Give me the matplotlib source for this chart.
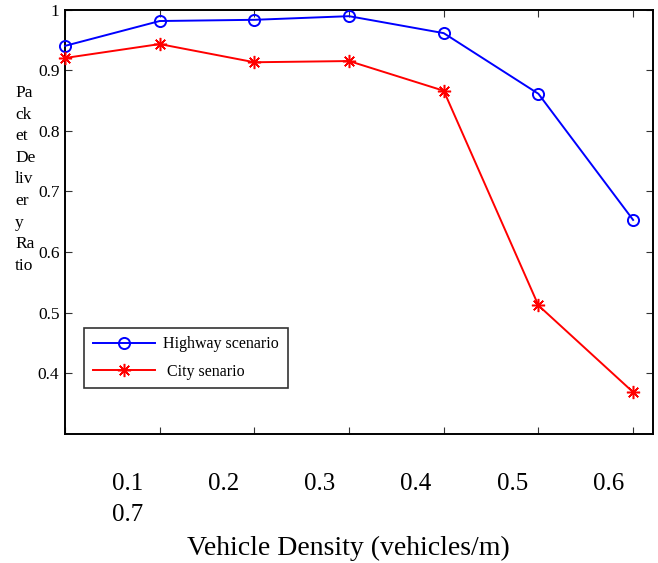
import matplotlib
matplotlib.use("Agg")
import matplotlib.pyplot as plt

density = [0.1, 0.2, 0.3, 0.4, 0.5, 0.6, 0.7]
highway = [0.940, 0.981, 0.983, 0.989, 0.961, 0.861, 0.653]
city = [0.920, 0.943, 0.913, 0.915, 0.866, 0.512, 0.369]
density_labels = ["0.1", "0.2", "0.3", "0.4", "0.5", "0.6", "0.7"]
ylabel_parts = ["Pa", "ck", "et", "De", "liv", "er", "y", "Ra", "tio"]
yticks = [0.4, 0.5, 0.6, 0.7, 0.8, 0.9, 1.0]
ytick_labels = ["0.4", "0.5", "0.6", "0.7", "0.8", "0.9", "1"]

plt.rcParams['font.family'] = ['Liberation Serif', 'DejaVu Serif']

W, H = 658, 563
fig = plt.figure(figsize=(W / 100, H / 100), dpi=100)
ax = fig.add_axes([65 / W, 1 - 434 / H, (653 - 65) / W, (434 - 9.5) / H])

ast = (8, 2, 0)
ax.plot(density, highway, color='#0000ff', lw=1.4, marker='o', ms=8,
        mfc='none', mec='#0000ff', mew=1.4, label='Highway scenario', clip_on=False, zorder=3)
ax.plot(density, city, color='#ff0000', lw=1.4, marker=ast, ms=9.5,
        mec='#ff0000', mew=1.1, label=' City senario', clip_on=False, zorder=3)

ax.set_xlim(0.1, 0.721)
ax.set_ylim(0.3, 1.0)
ax.set_xticks(density)
ax.set_xticklabels([])
ax.set_yticks(yticks)
ax.set_yticklabels(ytick_labels, fontsize=12.5)
ax.tick_params(direction='in', length=5, width=0.8, top=True, right=True, pad=4,
               color='#333333')
for s in ax.spines.values():
    s.set_linewidth(1.4)

leg = ax.legend(loc='upper left', bbox_to_anchor=((84 - 65) / 588, 1 - (327.7 - 9.5) / 424.5),
                fontsize=11.5, frameon=True, fancybox=False, edgecolor='black',
                handlelength=3.9, handletextpad=0.5, borderpad=0.55, labelspacing=0.7,
                borderaxespad=0)
leg.get_frame().set_linewidth(1.2)

# y label pieces
for i, p in enumerate(ylabel_parts):
    fig.text(15 / W, 1 - (93 + i * 21.6) / H, p, fontsize=12.5, ha='left', va='center')

# x tick labels written as text rows
xs = [128, 224, 320, 416, 513, 609]
for x, lab in zip(xs, density_labels[:6]):
    fig.text(x / W, 1 - 484 / H, lab, fontsize=18, ha='center', va='center')
fig.text(128 / W, 1 - 515 / H, density_labels[6], fontsize=18, ha='center', va='center')
fig.text(348 / W, 1 - 548 / H, "Vehicle Density (vehicles/m)", fontsize=20, ha='center', va='center')

fig.savefig("out.png", dpi=100)
